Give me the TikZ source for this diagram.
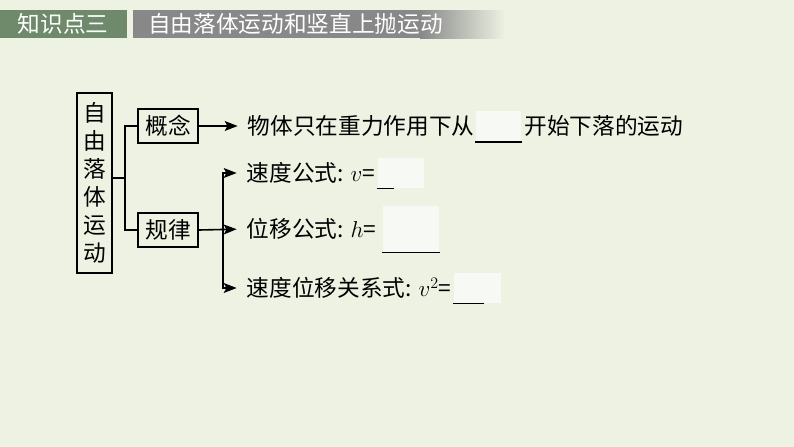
\documentclass[tikz,border=0pt]{standalone}
\usepackage{fontspec}
\setmainfont{Noto Sans CJK SC}
\usetikzlibrary{arrows.meta,positioning}
\definecolor{bg}{HTML}{EDF2E3}
\definecolor{leaf}{HTML}{6E8A6B}
\definecolor{slate}{HTML}{888888}
\definecolor{blankfill}{HTML}{F7F9F4}

\begin{document}
\begin{tikzpicture}[
  x=0.75pt,y=-0.75pt,
  font=\fontsize{17pt}{20pt}\selectfont,
  line width=1.2pt,
  box/.style={draw,inner sep=0pt,minimum width=45pt,minimum height=25.5pt},
  txt/.style={anchor=west,inner sep=0pt},
  gap/.style={fill=blankfill,inner sep=0pt,minimum height=23pt},
  >={Stealth[length=3.4mm,width=2.6mm,inset=0.7mm]}
]
\fill[bg] (0,0) rectangle (794,447);
\useasboundingbox (0,0) rectangle (794,447);
% header bar
\fill[leaf] (0,10) rectangle (127,38);
\fill[slate] (133,10) rectangle (420,38);
\shade[left color=slate,right color=bg] (420,10) rectangle (505,38);
\node[text=white] (kp) at (63,24) {知识点三};
\node[text=white,anchor=west] (ttl) at (143,24) {自由落体运动和竖直上抛运动};
% the tree
\node[draw,minimum width=26pt,minimum height=135pt,align=center,inner sep=0pt,
  font=\fontsize{17pt}{21pt}\selectfont] (topic) at (94.5,183) {自\\由\\落\\体\\运\\动};
\node[box] (con) at (168,126) {概念};
\node[box] (law) at (168,230) {规律};
\coordinate (jn) at (125,178);
\draw (topic.east |- jn) -- (jn);
\draw (con.west) -| (jn) |- (law.west);
% the concept
\node[txt] (def) at (247,126) {物体只在重力作用下从};
\node[gap,minimum width=34pt,right=0pt of def] (g0) {};
\draw (g0.south west) -- (g0.south east);
\node[txt,right=1pt of g0] (def2) {开始下落的运动};
\draw[->,shorten >=7pt] (con.east) -- (def.west);
% the laws
\node[txt] (vel) at (246,173) {速度公式: $v$=};
\node[gap,minimum width=35pt,minimum height=22pt,right=1pt of vel] (g1) {};
\draw (g1.south west) -- ++(17,0);
\node[txt] (dis) at (246,229) {位移公式: $h$=};
\node[gap,minimum width=42pt,minimum height=34pt,right=4pt of dis] (g2) {};
\draw (g2.south west) -- (g2.south east);
\node[txt] (rel) at (246,288) {速度位移关系式: $v^2$=};
\node[gap,minimum width=35pt,minimum height=22pt,right=1pt of rel] (g3) {};
\draw (g3.south west) -- ++(31,0);
\coordinate (br) at (223,229);
\draw[->,shorten >=7pt] (law.east) -- (dis.west);
\draw[->,shorten >=7pt] (br) |- (vel.west);
\draw[->,shorten >=7pt] (br) |- (rel.west);
\end{tikzpicture}
\end{document}
